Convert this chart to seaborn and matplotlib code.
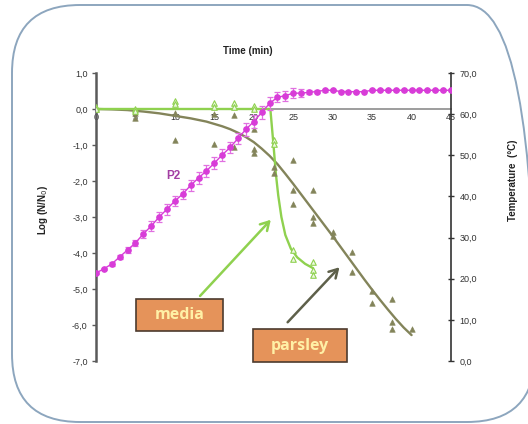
import numpy as np
import pandas as pd
import matplotlib
matplotlib.use("Agg")
import matplotlib.pyplot as plt
from matplotlib.patches import FancyBboxPatch, Rectangle
import seaborn as sns

# ---- data -------------------------------------------------------------
# temperature profile P2 (one reading per minute) with its spread
temp_time = list(range(0, 46))
temp_c = [21.4, 22.4, 23.6, 25.3, 27.0, 28.7, 30.9, 32.8, 35.0, 36.9,
          38.9, 40.6, 42.7, 44.5, 46.2, 48.1, 50.1, 51.9, 54.1, 56.3,
          58.2, 60.4, 62.6, 64.1, 64.5, 65.1, 65.1, 65.3, 65.5, 65.8,
          65.8, 65.5, 65.5, 65.4, 65.5, 65.8, 65.8, 65.8, 65.8, 65.8,
          65.8, 65.8, 65.8, 65.8, 65.8, 65.8]
temp_err = [0.3, 0.3, 0.4, 0.5, 0.7, 0.8, 1.0, 1.2, 1.3, 1.3,
            1.3, 1.3, 1.4, 1.4, 1.4, 1.4, 1.4, 1.4, 1.4, 1.5,
            1.5, 1.5, 1.5, 1.2, 1.2, 1.2, 1.0, 0.5, 0.4, 0.3,
            0.2, 0.2, 0.2, 0.2, 0.2, 0.2, 0.2, 0.2, 0.2, 0.2,
            0.2, 0.2, 0.2, 0.2, 0.2, 0.2]

# observed log reductions in media
media_t = [0, 0, 5, 5, 10, 10, 15, 15, 17.5, 17.5, 20, 20, 22.5, 22.5,
           25, 25, 27.5, 27.5, 27.5]
media_log = [0.05, 0.0, 0.0, -0.05, 0.23, 0.14, 0.17, 0.05, 0.17, 0.05,
             0.09, 0.0, -0.85, -0.97, -3.92, -4.18, -4.25, -4.46, -4.62]

# fitted curve for media
media_fit_t = [0, 22.1, 22.3, 22.5, 22.8, 23.1, 23.5, 24.0, 24.7, 25.5, 26.5, 27.5]
media_fit_log = [0, 0, -0.5, -1.0, -1.8, -2.4, -3.0, -3.5, -3.88, -4.12, -4.3, -4.42]

# observed log reductions in parsley
parsley_t = [0, 5, 5, 10, 10, 15, 15, 17.5, 17.5, 20, 20, 20,
             22.5, 22.5, 25, 25, 25, 27.5, 27.5, 27.5, 30, 30,
             32.5, 32.5, 35, 35, 37.5, 37.5, 37.5, 40]
parsley_log = [0.0, -0.1, -0.25, -0.1, -0.85, -0.14, -0.97, -0.16, -1.06,
               -0.55, -1.11, -1.23, -1.62, -1.77, -1.43, -2.26, -2.63,
               -2.26, -3.0, -3.16, -3.43, -3.54, -3.97, -4.52, -5.05,
               -5.38, -5.28, -5.91, -6.1, -6.11]

# fitted curve for parsley
parsley_fit_t = [0, 2, 4, 6, 8, 10, 12, 14, 16, 17, 18, 19, 20, 21, 22, 23,
                 24, 25, 26, 27, 28, 29, 30, 31, 32, 33, 34, 35, 36, 37,
                 38, 39, 40]
parsley_fit_log = [0, -0.01, -0.03, -0.07, -0.12, -0.19, -0.26, -0.35, -0.48,
                   -0.56, -0.66, -0.78, -0.92, -1.1, -1.3, -1.53, -1.8, -2.08,
                   -2.37, -2.66, -2.95, -3.24, -3.53, -3.83, -4.13, -4.43,
                   -4.73, -5.02, -5.3, -5.57, -5.83, -6.07, -6.28]

x_ticks = list(range(0, 46, 5))
log_ticks = [1, 0, -1, -2, -3, -4, -5, -6, -7]
temp_ticks = [0, 10, 20, 30, 40, 50, 60, 70]

# ---- style --------------------------------------------------------------
sns.set_style("white")
plt.rcParams["font.family"] = ["Liberation Sans", "DejaVu Sans"]

MEDIA = "#8fd14f"
PARSLEY = "#83845a"
MAGENTA = "#d83cd8"
MAGENTA_ERR = "#e070e0"

W, H = 528, 424
fig = plt.figure(figsize=(W / 100, H / 100), dpi=100)
fig.patch.set_facecolor("white")

# rounded frame around the panel
frame = FancyBboxPatch((0.12, 0.02), 5.23, 4.17,
                       boxstyle="round,pad=0,rounding_size=0.68",
                       transform=fig.dpi_scale_trans, facecolor="none",
                       edgecolor="#8da6be", linewidth=1.4, zorder=0)
fig.patches.append(frame)

ax = fig.add_axes([96 / W, 63 / H, 355 / W, 288 / H])
ax.set_facecolor("none")

# parsley and media fits + observations
sns.lineplot(x=parsley_fit_t, y=parsley_fit_log, ax=ax, color=PARSLEY,
             lw=1.7, sort=False, zorder=3)
sns.lineplot(x=media_fit_t, y=media_fit_log, ax=ax, color=MEDIA,
             lw=1.7, sort=False, zorder=3)
sns.scatterplot(x=parsley_t, y=parsley_log, ax=ax, marker="^", s=16,
                color=PARSLEY, edgecolor=PARSLEY, linewidth=0.4, zorder=4)
sns.scatterplot(x=media_t, y=media_log, ax=ax, marker="^", s=16,
                facecolor="#eef8e4", edgecolor=MEDIA, linewidth=0.8, zorder=4)

ax.set_xlim(0, 45)
ax.set_ylim(-7, 1)
ax.set_xticks(x_ticks)
ax.set_xticklabels([str(v) for v in x_ticks])
ax.set_yticks(log_ticks)
ax.set_yticklabels([f"{v:.1f}".replace(".", ",") for v in log_ticks])
ax.spines["top"].set_visible(False)
ax.spines["right"].set_visible(False)
ax.spines["left"].set_color("#5a5a5a")
ax.spines["left"].set_linewidth(1.8)
ax.spines["bottom"].set_position(("data", 0))
ax.spines["bottom"].set_color("#8c8c8c")
ax.spines["bottom"].set_linewidth(1.2)
ax.tick_params(axis="x", direction="inout", length=4, width=0.8,
               colors="#8c8c8c", labelcolor="#333333", labelsize=6.5, pad=1)
ax.tick_params(axis="y", direction="out", length=3, width=1.0,
               colors="#5a5a5a", labelcolor="#333333", labelsize=6.5, pad=3)
ax.set_xlabel("")
ax.set_ylabel("")

ax.text(9.75, -1.87, "P2", color="#a33fa3", fontsize=8.5,
        fontweight="bold", ha="center", va="center", zorder=6)

# temperature on the secondary axis
ax2 = ax.twinx()
ax2.set_facecolor("none")
ax2.errorbar(temp_time, temp_c, yerr=temp_err, color=MAGENTA, lw=1.0,
             marker="o", ms=3.8, mec=MAGENTA, mfc=MAGENTA,
             ecolor=MAGENTA_ERR, elinewidth=0.9, capsize=2.3, capthick=0.9,
             zorder=5)
ax2.set_ylim(0, 70)
ax2.set_yticks(temp_ticks)
ax2.set_yticklabels([f"{v:.1f}".replace(".", ",") for v in temp_ticks])
for s in ("top", "left", "bottom"):
    ax2.spines[s].set_visible(False)
ax2.spines["right"].set_color("#333333")
ax2.spines["right"].set_linewidth(1.2)
ax2.tick_params(axis="y", direction="inout", length=4, width=1.0,
                colors="#333333", labelsize=6.5, pad=4)

# axis titles
fig.text(248 / W, 1 - 51 / H, "Time (min)", ha="center", va="center",
         fontsize=7, fontweight="bold", color="#222222")
fig.text(43 / W, 1 - 210 / H, "Log (N/N$_0$)", ha="center", va="center",
         rotation=90, fontsize=7, fontweight="bold", color="#222222")
fig.text(513 / W, 1 - 180 / H, "Temperature  (°C)", ha="center",
         va="center", rotation=90, fontsize=7, fontweight="bold",
         color="#222222")

# callout arrows
ax.annotate("", xy=(22.4, -3.02), xytext=(12.95, -5.25),
            arrowprops=dict(arrowstyle="->,head_length=0.6,head_width=0.35",
                            color=MEDIA, lw=1.8),
            annotation_clip=False, zorder=7)
ax.annotate("", xy=(31.1, -4.34), xytext=(24.05, -5.98),
            arrowprops=dict(arrowstyle="->,head_length=0.6,head_width=0.35",
                            color="#5e604a", lw=1.8),
            annotation_clip=False, zorder=7)

# callout boxes
for (x0, y0, x1, y1, label) in [(136, 299, 223, 331, "media"),
                                (253, 329, 347, 362, "parsley")]:
    rect = Rectangle((x0 / 100, (H - y1) / 100), (x1 - x0) / 100,
                     (y1 - y0) / 100, transform=fig.dpi_scale_trans,
                     facecolor="#e5935a", edgecolor="#4d3b2e", lw=1.2,
                     zorder=8)
    fig.patches.append(rect)
    fig.text((x0 + x1) / 2 / W, 1 - (y0 + y1) / 2 / H, label,
             ha="center", va="center", fontsize=11.5, fontweight="bold",
             color="#fff0a6", family=["Open Sans", "DejaVu Sans"], zorder=9)

fig.savefig("out.png", dpi=100, facecolor="white")
